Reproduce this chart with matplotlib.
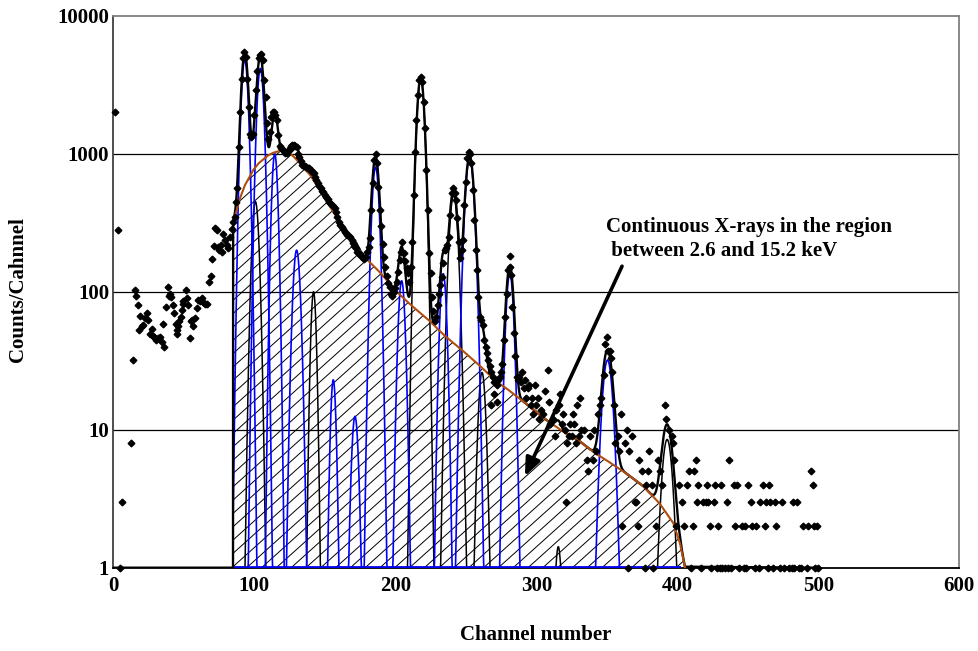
import numpy as np
import matplotlib
matplotlib.use("Agg")
import matplotlib.pyplot as plt
from matplotlib.patches import Polygon
from matplotlib.collections import LineCollection

# ---------------- measured spectrum ----------------
# sparse low-energy part (channel, counts)
low_channel = [1, 3, 5, 6.4, 12.6, 14.2, 15.4, 16.1, 17.3, 18.2, 18.9, 20.1, 21.3, 22.5,
               23.7, 24.8, 26.0, 27.2, 27.9, 29.1, 30.3, 31.9, 33.1, 34.3, 35.5, 36.2,
               37.4, 39.0, 39.3, 40.2, 40.9, 42.1, 43.0, 44.2, 45.0, 45.4, 46.1, 46.8,
               47.8, 48.5, 49.2, 49.6, 51.3, 52.5, 53.2, 54.4, 54.9, 55.6, 56.7, 57.9,
               59.1, 60.3, 61.5, 62.7, 63.8, 65.0, 66.2, 68.1, 69.1, 70.2, 71.4, 72.1,
               73.3, 74.5, 75.2, 76.2, 76.9, 78.0, 79.2, 80.4, 81.6, 82.8, 84.0]
low_counts = [2000, 280, 1, 3, 8, 32, 103, 93, 80, 53, 67, 56, 57, 65,
              70, 62, 49, 54, 48, 47, 45, 46, 47, 43, 58, 40,
              78, 109, 93, 97, 91, 80, 70, 58, 53, 49, 56, 61,
              66, 74, 82, 85, 103, 90, 80, 46, 61, 62, 56, 65,
              76, 87, 85, 90, 84, 81, 82, 118, 131, 172, 214, 288,
              280, 212, 200, 218, 195, 262, 237, 218, 206, 250, 283]

# dense part, one value per channel starting at channel 85
main_counts = [
    320, 350, 450, 560, 1120, 2010, 3480, 4910, 5450, 5000,
    3480, 2190, 1400, 1330, 1380, 1900, 2900, 4000, 4900, 5190,
    5250, 4780, 3420, 2590, 1660, 1270, 1440, 1850, 2010, 2000,
    1900, 1750, 1370, 1140, 1100, 1065, 1040, 1010, 1010, 1040,
    1100, 1130, 1160, 1150, 1130, 1110, 1000, 950, 880, 830,
    810, 808, 800, 790, 783, 760, 741, 720, 680, 646,
    610, 580, 560, 540, 531, 505, 488, 470, 450, 437,
    425, 415, 402, 375, 345, 320, 305, 296, 285, 272,
    265, 258, 252, 250, 235, 224, 215, 206, 195, 187,
    187, 180, 175, 172, 178, 195, 210, 244, 391, 610,
    900, 1000, 851, 577, 391, 300, 220, 179, 150, 130,
    115, 109, 97, 93, 100, 106, 118, 140, 170, 195,
    230, 190, 167, 148, 136, 118, 150, 230, 500, 1035,
    1750, 2660, 3420, 3610, 3330, 2380, 1530, 762, 391, 190,
    136, 92, 72, 61, 66, 80, 97, 112, 128, 161,
    200, 206, 218, 251, 360, 516, 561, 516, 462, 340,
    230, 175, 200, 237, 425, 627, 927, 1035, 1000, 851,
    546, 331, 200, 144, 92, 66, 62, 57, 45, 40,
    36, 32, 29, 26, 24, 22, 22, 21, 23, 24,
    26, 30, 45, 66, 97, 144, 152, 132, 78, 50,
    34, 24, 23, 24, 22, 26, 20, 23, 17, 20, 21]
main_start = 85

# scattered points lying off the main trace
extra_channel = [268, 270, 272, 281]
extra_counts = [15, 18, 16, 180]

# high-energy tail (channel, counts)
tail_channel = [296, 297, 298, 299, 300, 301, 302, 303, 305, 306, 308, 309, 310, 312, 313,
                314, 316, 317, 318, 319, 320, 321, 322, 323, 324, 325, 326, 327, 328, 329,
                330, 331, 332, 334, 336, 337, 338, 340, 341, 342, 344, 345, 346, 348, 349,
                350, 351, 352, 353, 354, 355, 356, 358, 359, 360, 361, 363, 364, 365, 366,
                368, 370, 371, 372, 373, 375, 377, 378, 379, 380, 382, 383, 385, 386, 388,
                389, 391, 392, 394, 396, 397, 398, 399, 401, 403, 405, 407, 408, 410, 411,
                412, 413, 414, 415, 417, 418, 420, 421, 422, 423, 424, 426, 427, 428, 429,
                430, 431, 432, 434, 435, 436, 437, 438, 440, 441, 442, 444, 446, 447, 448,
                449, 450, 452, 453, 455, 456, 458, 459, 461, 462, 463, 464, 465, 466, 468,
                469, 470, 473, 474, 476, 479, 481, 482, 483, 485, 486, 488, 489, 492, 493,
                495, 496, 497, 498, 499, 500]
tail_counts = [15, 17, 13, 21, 15, 17, 12, 14, 13, 19, 27, 16, 11, 12, 9,
               14, 15, 18, 11, 13, 10, 3, 8, 9, 11, 9, 13, 11, 8, 15,
               9, 17, 10, 10, 6, 5, 9, 6, 10, 7, 13, 15, 17, 25, 42,
               47, 37, 37, 33, 26, 15, 8, 9, 7, 13, 2, 8, 10, 1, 7,
               9, 3, 3, 2, 6, 5, 1, 4, 5, 7, 4, 1, 2, 6, 5,
               4, 15, 12, 10, 9, 8, 6, 2, 4, 3, 2, 4, 5, 1, 2,
               5, 6, 3, 4, 1, 3, 3, 4, 3, 2, 1, 3, 4, 1, 2,
               1, 4, 1, 1, 3, 1, 6, 1, 4, 2, 4, 1, 2, 1, 2,
               1, 4, 3, 2, 1, 2, 1, 3, 4, 2, 3, 1, 4, 3, 1,
               3, 2, 1, 3, 1, 1, 1, 3, 1, 3, 1, 1, 2, 1, 2,
               5, 4, 2, 1, 2, 1]

# ---------------- fitted model ----------------
# continuous X-ray background
cont_channel = [85, 87.5, 90, 93.4, 97, 99.3, 103, 106.4, 110, 113.5, 118.2, 121, 125.3,
                128, 132.4, 136, 139.5, 143, 146.6, 150, 153.7, 157, 160.8, 165, 170.2,
                175, 179.7, 185, 189.1, 195, 201, 210, 215, 224.6, 235, 248.3, 260,
                271.9, 280, 290.8, 300, 307.4, 319, 329.8, 340.4, 352, 364, 375.9,
                387.7, 397.2, 401.9, 405.5]
cont_counts = [320, 391, 480, 593, 690, 762, 850, 910, 975, 1016, 1050, 1045, 1005,
               950, 851, 775, 702, 620, 546, 475, 413, 365, 316, 270, 229,
               196, 172, 152, 138, 118, 100, 82, 74, 61, 48, 37, 29,
               22.3, 19.5, 16, 13.5, 11.7, 9.7, 8.4, 6.9, 5.8, 4.8, 3.9,
               2.9, 2.1, 1.5, 1.0]

# Gaussian line components
peak_centre = [93.2, 100.8, 104.3, 114.5, 130.0, 142.0, 156.0, 171.4, 186.0, 204.5,
               218.0, 234.0, 241.3, 252.7, 261.5, 281.2, 315.6, 350.5, 392.8]
peak_height = [4800, 450, 4150, 1000, 200, 100, 23, 12.5, 800, 120,
               3500, 135, 500, 930, 26, 135, 1.42, 32, 8.5]
peak_sigma = [2.1, 2.1, 2.1, 1.8, 2.2, 1.6, 1.6, 2.0, 2.2, 2.0,
              2.3, 2.0, 2.6, 2.7, 2.2, 2.3, 2.0, 3.2, 3.3]
peak_colour = ['blue', 'black', 'blue', 'blue', 'blue', 'black', 'blue', 'blue', 'blue',
               'blue', 'black', 'blue', 'black', 'blue', 'black', 'blue', 'black', 'blue',
               'black']

x_ticks = [0, 100, 200, 300, 400, 500, 600]
y_ticks = [1, 10, 100, 1000, 10000]
y_tick_labels = ['1', '10', '100', '1000', '10000']

# ---------------- figure ----------------
plt.rcParams['font.family'] = ['Liberation Serif', 'DejaVu Serif']
plt.rcParams['font.weight'] = 'bold'
FS = 15

fig = plt.figure(figsize=(9.79, 6.51), dpi=100)
ax = fig.add_axes([0.11573, 0.12796, 0.86415, 0.84793])
ax.set_yscale('log')

grid = np.arange(85.0, 402.01, 0.2)
cont_on_grid = 10 ** np.interp(grid, cont_channel, np.log10(cont_counts))

def gauss(xv, c, h, s):
    return h * np.exp(-0.5 * ((xv - c) / s) ** 2)

components = [gauss(grid, c, h, s) for c, h, s in zip(peak_centre, peak_height, peak_sigma)]

# total fit = background + all components, shown at the floor of the axis outside the fit range
fit_grid = np.arange(85.0, 405.51, 0.2)
fit_cont = 10 ** np.interp(fit_grid, cont_channel, np.log10(cont_counts))
fit_sum = fit_cont + sum(gauss(fit_grid, c, h, s)
                         for c, h, s in zip(peak_centre, peak_height, peak_sigma))
fit_x = np.concatenate([[0, 84.9], fit_grid, [500]])
fit_y = np.concatenate([[1, 1], np.maximum(fit_sum, 1), [1]])

# hatched region under the continuum
poly_x = [cont_channel[0]] + cont_channel + [cont_channel[-1]]
poly_y = [1] + cont_counts + [1]
region = Polygon(np.column_stack([poly_x, poly_y]), closed=True,
                 facecolor='none', edgecolor='none')
ax.add_patch(region)
slope = 1.379
step = 0.0175
starts = -0.1048 + step * np.arange(-60, 70)
segs = [[(s, 0.0), (s + 1.0 / slope, 1.0)] for s in starts]
hatch = LineCollection(segs, colors='black', linewidths=0.7,
                       transform=ax.transAxes, zorder=1)
hatch.set_clip_path(region)
ax.add_collection(hatch, autolim=False)

# individual components
for comp, col in zip(components, peak_colour):
    if col == 'black':
        ax.plot(grid, np.maximum(comp, 1), color='black', lw=1.1, zorder=2)
for comp, col in zip(components, peak_colour):
    if col == 'blue':
        ax.plot(grid, np.maximum(comp, 1), color='#0000FF', lw=1.2, zorder=3)

# total fit and continuum
ax.plot(fit_x, fit_y, color='black', lw=1.7, zorder=4, solid_joinstyle='round')
ax.plot(cont_channel, cont_counts, color='#B04E0F', lw=1.5, zorder=4.5)

# measured points
pts_x = (low_channel + list(np.arange(main_start, main_start + len(main_counts)))
         + extra_channel + tail_channel)
pts_y = low_counts + main_counts + extra_counts + tail_counts
ax.plot(pts_x, pts_y, linestyle='none', marker='D', color='black', ms=3.4,
        zorder=6, clip_on=False)

# axes styling
ax.set_xlim(0, 600)
ax.set_ylim(1, 10000)
ax.set_xticks(x_ticks)
ax.set_xticklabels([str(t) for t in x_ticks])
ax.set_yticks(y_ticks)
ax.set_yticklabels(y_tick_labels)
ax.yaxis.set_minor_locator(matplotlib.ticker.NullLocator())
ax.tick_params(axis='both', length=0, labelsize=FS)
ax.tick_params(axis='x', pad=6)
ax.tick_params(axis='y', pad=3)
for lab in ax.get_xticklabels() + ax.get_yticklabels():
    lab.set_fontweight('bold')
for yv in [10, 100, 1000]:
    ax.axhline(yv, color='black', lw=0.9, zorder=0.5)

ax.spines['top'].set_color('#808080')
ax.spines['right'].set_color('#808080')
ax.spines['left'].set_color('#404040')
ax.spines['bottom'].set_color('black')
for sp in ax.spines.values():
    sp.set_linewidth(1.3)

fig.text(18 / 979, 1 - 290 / 651, 'Counts/Cahnnel', rotation=90, ha='center',
         va='center', fontsize=FS, fontweight='bold')
fig.text(536 / 979, 1 - 635 / 651, 'Channel number', ha='center', va='center',
         fontsize=FS, fontweight='bold')

ax.annotate('', xy=(291.9, 4.6), xytext=(360.8, 153),
            arrowprops=dict(arrowstyle='-|>,head_length=0.6,head_width=0.25',
                            color='black', lw=2.6, mutation_scale=18,
                            shrinkA=0, shrinkB=0), zorder=7)
ax.text(349.5, 241, 'Continuous X-rays in the region\n between 2.6 and 15.2 keV',
        ha='left', va='center', fontsize=FS, fontweight='bold', linespacing=1.25,
        zorder=7)

fig.savefig('out.png', dpi=100)
